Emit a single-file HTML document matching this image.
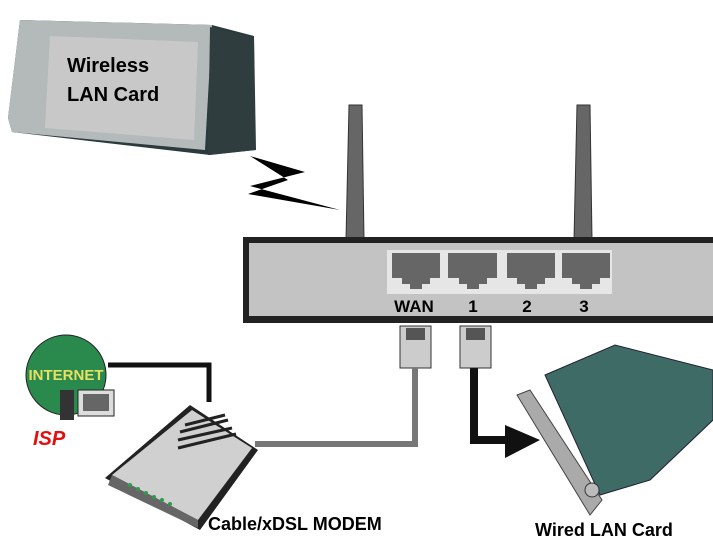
<!DOCTYPE html>
<html><head><style>
body{margin:0;background:#fff;}
svg{display:block;font-family:"Liberation Sans",Arial,sans-serif;}
</style></head><body>
<svg width="713" height="541" viewBox="0 0 713 541">
<!-- PCMCIA card -->
<polygon points="20,20 212,25 254,36 256,150 210,155 12,132 8,118" fill="#2b3a3c"/>
<polygon points="20,20 212,25 205,150 12,132 8,118" fill="#b4baba"/>
<polygon points="50,36 198,42 194,140 45,128" fill="#c8c8c8"/>
<polygon points="210,27 254,38 255,150 208,155" fill="#2f3d3f"/>
<text x="67" y="72" font-size="20" font-weight="bold">Wireless</text>
<text x="67" y="101" font-size="20" font-weight="bold">LAN  Card</text>
<!-- lightning -->
<polygon points="250,156 305,172 250,186 340,210 248,194 288,180" fill="#000"/>
<!-- antennas -->
<polygon points="349,105 362,105 364,240 346,240" fill="#666" stroke="#333"/>
<polygon points="577,105 590,105 592,240 574,240" fill="#666" stroke="#333"/>
<!-- router -->
<rect x="243" y="237" width="470" height="86" fill="#222"/>
<rect x="249" y="243" width="464" height="73" fill="#c3c3c3"/>
<rect x="387" y="250" width="225" height="44" fill="#e6e6e6"/>
<g fill="#666">
<path d="M392,253h48v25h-10v6h-8v5h-12v-5h-8v-6h-10z"/>
<path d="M448,253h49v25h-10v6h-8v5h-12v-5h-8v-6h-11z"/>
<path d="M507,253h48v25h-10v6h-8v5h-12v-5h-8v-6h-10z"/>
<path d="M562,253h48v25h-10v6h-8v5h-12v-5h-8v-6h-10z"/>
</g>
<g font-size="17" font-weight="bold" text-anchor="middle">
<text x="414" y="312">WAN</text><text x="473" y="312">1</text><text x="527" y="312">2</text><text x="584" y="312">3</text>
</g>
<!-- plugs -->
<rect x="400" y="326" width="31" height="42" fill="#ccc" stroke="#333"/>
<rect x="460" y="326" width="31" height="42" fill="#ccc" stroke="#333"/>
<rect x="406" y="328" width="19" height="12" fill="#555"/>
<rect x="466" y="328" width="19" height="12" fill="#555"/>
<!-- cables -->
<polyline points="415,368 415,444 255,444" fill="none" stroke="#777" stroke-width="6"/>
<polyline points="474,368 474,440 510,440" fill="none" stroke="#111" stroke-width="8"/>
<polygon points="505,425 540,440 505,458" fill="#111"/>
<polyline points="108,365 209,365 209,402" fill="none" stroke="#111" stroke-width="5"/>
<!-- globe -->
<circle cx="66" cy="375" r="40" fill="#2a8a4e" stroke="#222"/>
<text x="66" y="380" font-size="15" font-weight="bold" fill="#e8e060" text-anchor="middle">INTERNET</text>
<rect x="60" y="390" width="14" height="30" fill="#333"/>
<rect x="78" y="390" width="36" height="26" fill="#ddd" stroke="#222"/>
<rect x="83" y="394" width="26" height="17" fill="#666"/>
<text x="33" y="445" font-size="20" font-weight="bold" font-style="italic" fill="#e41010">ISP</text>
<!-- modem -->
<polygon points="105,478 190,405 258,450 200,530" fill="#222"/>
<polygon points="112,475 192,410 252,448 198,520" fill="#d0d0d0"/>
<polygon points="112,475 198,520 198,528 108,485" fill="#666"/>
<g stroke="#222" stroke-width="3">
<line x1="185" y1="425" x2="225" y2="415"/><line x1="180" y1="432" x2="228" y2="420"/><line x1="178" y1="440" x2="232" y2="428"/><line x1="178" y1="448" x2="236" y2="434"/>
</g>
<g fill="#2c9c4c"><circle cx="130" cy="485" r="2"/><circle cx="138" cy="489" r="2"/><circle cx="146" cy="493" r="2"/><circle cx="154" cy="497" r="2"/><circle cx="162" cy="500" r="2"/><circle cx="170" cy="504" r="2"/></g>
<text x="208" y="530" font-size="18" font-weight="bold">Cable/xDSL MODEM</text>
<!-- LAN card -->
<polygon points="517,395 530,390 602,500 590,515" fill="#aaa" stroke="#444"/>
<polygon points="545,375 615,345 713,370 713,420 650,480 600,495" fill="#3e6b66" stroke="#223"/>
<circle cx="592" cy="490" r="7" fill="#bbb" stroke="#333"/>
<text x="535" y="536" font-size="18" font-weight="bold">Wired LAN Card</text>
</svg>
</body></html>
